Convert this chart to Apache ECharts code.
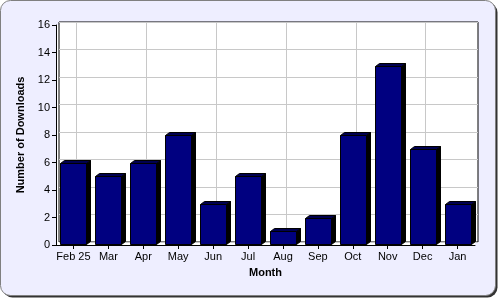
<!DOCTYPE html>
<html><head><meta charset="utf-8">
<script src="https://cdn.jsdelivr.net/npm/echarts@6/dist/echarts.min.js"></script>
<style>html,body{margin:0;padding:0;background:#fff}#c{width:500px;height:300px}</style>
</head><body><div id="c"></div>
<script>
const categories = ['Feb 25','Mar','Apr','May','Jun','Jul','Aug','Sep','Oct','Nov','Dec','Jan'];
const downloads = [6,5,6,8,3,5,1,2,8,13,7,3];
const yTicks = {min:0, max:16, interval:2};

const chart = echarts.init(document.getElementById('c'), null, {renderer:'canvas'});
const font = 'Liberation Sans, Arial, sans-serif';
const D = 4, E = 3;
chart.setOption({
  animation:false,
  backgroundColor:'transparent',
  graphic:[
    {type:'rect', z:-10, shape:{x:2.5,y:2.5,width:495,height:295,r:10}, style:{fill:'#333',stroke:null}},
    {type:'rect', z:-9, shape:{x:0.5,y:0.5,width:495,height:295,r:10}, style:{fill:'#EEEEFF',stroke:'#808080',lineWidth:1}}
  ],
  grid:[
    {left:56, right:25, top:25, bottom:55, show:true, backgroundColor:'#fff', borderWidth:0, z:-1},
    {left:59, right:22, top:22, bottom:58, show:true, backgroundColor:'#fff', borderColor:'#000', borderWidth:1, z:0}
  ],
  xAxis:[
    {type:'category', gridIndex:0, data:categories,
     axisLine:{show:true, lineStyle:{color:'#000', width:1}},
     axisTick:{show:true, alignWithLabel:true, length:4, lineStyle:{color:'#000'}},
     axisLabel:{color:'#000', fontFamily:font, fontSize:11, margin:6, interval:0},
     splitLine:{show:false},
     name:'Month', nameLocation:'middle', nameGap:22,
     nameTextStyle:{color:'#000', fontFamily:font, fontSize:11, fontWeight:'bold'}},
    {type:'category', gridIndex:1, data:categories,
     axisLine:{show:false}, axisTick:{show:false}, axisLabel:{show:false},
     splitLine:{show:true, alignWithLabel:true, lineStyle:{color:'#C8C8C8', width:1}}}
  ],
  yAxis:[
    {type:'value', gridIndex:0, min:yTicks.min, max:yTicks.max, interval:yTicks.interval,
     axisLine:{show:true, lineStyle:{color:'#000', width:1}},
     axisTick:{show:true, length:4, lineStyle:{color:'#000'}},
     axisLabel:{color:'#000', fontFamily:font, fontSize:11, margin:6},
     splitLine:{show:false},
     name:'Number of Downloads', nameLocation:'middle', nameGap:26,
     nameTextStyle:{color:'#000', fontFamily:font, fontSize:11, fontWeight:'bold'}},
    {type:'value', gridIndex:1, min:yTicks.min, max:yTicks.max, interval:yTicks.interval,
     axisLine:{show:false}, axisTick:{show:false}, axisLabel:{show:false},
     splitLine:{show:true, lineStyle:{color:'#C8C8C8', width:1}}}
  ],
  series:[{
    type:'custom', xAxisIndex:0, yAxisIndex:0,
    data: downloads.map((v,i)=>[i,v]),
    encode:{x:0,y:1},
    renderItem:function(params, api){
      const i = api.value(0), v = api.value(1);
      const top = api.coord([i, v]);
      const base = api.coord([i, 0]);
      const bw = Math.round(api.size([1,0])[0]*0.74);
      const l = Math.round(top[0]-bw/2)+0.5, r = l+bw, t = Math.round(top[1])+0.5, b = Math.round(base[1])-0.5;
      return {type:'group', children:[
        {type:'polygon', shape:{points:[[r,b],[r+D,b-E],[r+D,t-E],[r,t]]}, style:{fill:'#000000', stroke:'#000', lineWidth:1}},
        {type:'polygon', shape:{points:[[l,t],[l+D,t-E],[r+D,t-E],[r,t]]}, style:{fill:'#000050', stroke:'#000', lineWidth:1}},
        {type:'rect', shape:{x:l, y:t, width:bw, height:b-t}, style:{fill:'#000080', stroke:'#000', lineWidth:1}}
      ]};
    }
  }]
});
</script></body></html>
